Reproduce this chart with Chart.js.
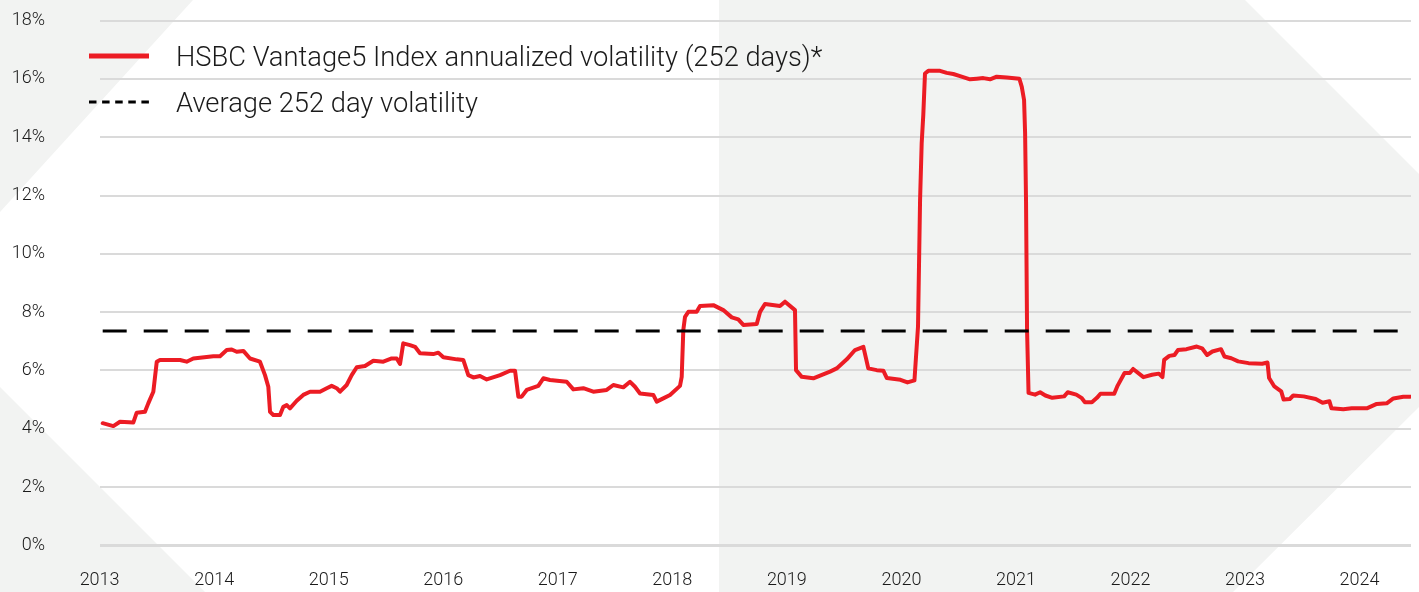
<!DOCTYPE html>
<html>
<head>
<meta charset="utf-8">
<title>HSBC Vantage5 Index volatility</title>
<script src="https://cdn.jsdelivr.net/npm/chart.js@4.4.1/dist/chart.umd.min.js"></script>
<style>
  html, body { margin: 0; padding: 0; background: #fff; }
  #wrap { width: 1419px; height: 592px; }
</style>
</head>
<body>
<div id="wrap"><canvas id="volChart" width="1419" height="592"></canvas></div>
<script>
// dates as decimal years
const years = [
  2013.027, 2013.120, 2013.178, 2013.294, 2013.324, 2013.396, 2013.425, 2013.469, 2013.499, 2013.527,
  2013.702, 2013.760, 2013.818, 2013.993, 2014.051, 2014.110, 2014.153, 2014.197, 2014.255, 2014.313,
  2014.400, 2014.444, 2014.473, 2014.488, 2014.517, 2014.575, 2014.604, 2014.634, 2014.662, 2014.721,
  2014.778, 2014.837, 2014.924, 2014.983, 2015.026, 2015.070, 2015.099, 2015.157, 2015.201, 2015.245,
  2015.317, 2015.390, 2015.477, 2015.550, 2015.594, 2015.623, 2015.651, 2015.710, 2015.754, 2015.797,
  2015.913, 2015.957, 2016.001, 2016.118, 2016.175, 2016.219, 2016.263, 2016.321, 2016.380, 2016.496,
  2016.583, 2016.627, 2016.656, 2016.685, 2016.729, 2016.830, 2016.874, 2016.932, 2017.078, 2017.136,
  2017.223, 2017.310, 2017.427, 2017.485, 2017.572, 2017.631, 2017.674, 2017.718, 2017.834, 2017.864,
  2017.921, 2017.980, 2018.067, 2018.082, 2018.096, 2018.111, 2018.140, 2018.213, 2018.242, 2018.358,
  2018.445, 2018.519, 2018.576, 2018.620, 2018.737, 2018.766, 2018.809, 2018.940, 2018.984, 2019.071,
  2019.080, 2019.130, 2019.231, 2019.377, 2019.435, 2019.523, 2019.595, 2019.668, 2019.711, 2019.785,
  2019.842, 2019.873, 2019.992, 2020.053, 2020.114, 2020.145, 2020.163, 2020.177, 2020.191, 2020.206,
  2020.235, 2020.337, 2020.396, 2020.453, 2020.512, 2020.599, 2020.658, 2020.715, 2020.774, 2020.832,
  2020.920, 2021.030, 2021.051, 2021.071, 2021.080, 2021.088, 2021.097, 2021.110, 2021.167, 2021.211,
  2021.257, 2021.317, 2021.421, 2021.452, 2021.527, 2021.572, 2021.602, 2021.663, 2021.707, 2021.738,
  2021.858, 2021.888, 2021.948, 2021.994, 2022.023, 2022.113, 2022.188, 2022.248, 2022.279, 2022.294,
  2022.339, 2022.384, 2022.414, 2022.489, 2022.579, 2022.625, 2022.669, 2022.715, 2022.790, 2022.820,
  2022.880, 2022.940, 2023.031, 2023.150, 2023.196, 2023.210, 2023.256, 2023.316, 2023.337, 2023.391,
  2023.421, 2023.512, 2023.617, 2023.677, 2023.737, 2023.755, 2023.858, 2023.932, 2024.063, 2024.150,
  2024.237, 2024.295, 2024.382, 2024.441
];

// annualized volatility (252 days), %
const vol = [
  4.19, 4.09, 4.24, 4.21, 4.55, 4.58, 4.87, 5.27, 6.30, 6.36,
  6.36, 6.30, 6.41, 6.49, 6.49, 6.70, 6.72, 6.64, 6.67, 6.41,
  6.30, 5.84, 5.44, 4.58, 4.47, 4.47, 4.75, 4.81, 4.70, 4.96,
  5.16, 5.27, 5.27, 5.39, 5.47, 5.39, 5.27, 5.50, 5.84, 6.11,
  6.15, 6.33, 6.30, 6.41, 6.41, 6.22, 6.93, 6.87, 6.81, 6.59,
  6.56, 6.61, 6.45, 6.38, 6.36, 5.84, 5.76, 5.81, 5.69, 5.84,
  5.99, 5.99, 5.10, 5.10, 5.33, 5.47, 5.73, 5.67, 5.61, 5.35,
  5.39, 5.27, 5.33, 5.50, 5.42, 5.61, 5.44, 5.21, 5.16, 4.93,
  5.04, 5.16, 5.47, 5.78, 7.39, 7.84, 8.01, 8.01, 8.21, 8.24,
  8.07, 7.82, 7.75, 7.56, 7.59, 8.01, 8.28, 8.21, 8.36, 8.07,
  6.01, 5.78, 5.73, 5.96, 6.07, 6.38, 6.70, 6.81, 6.07, 6.01,
  5.99, 5.74, 5.68, 5.59, 5.66, 7.50, 11.85, 13.79, 14.76, 16.19,
  16.28, 16.28, 16.21, 16.17, 16.10, 15.99, 16.01, 16.03, 15.99, 16.08,
  16.05, 16.01, 15.73, 15.28, 14.13, 11.85, 7.40, 5.23, 5.17, 5.25,
  5.14, 5.06, 5.11, 5.25, 5.17, 5.06, 4.91, 4.91, 5.06, 5.20,
  5.20, 5.48, 5.91, 5.91, 6.05, 5.77, 5.85, 5.89, 5.77, 6.36,
  6.50, 6.53, 6.70, 6.73, 6.82, 6.76, 6.53, 6.65, 6.73, 6.48,
  6.42, 6.31, 6.25, 6.23, 6.27, 5.74, 5.45, 5.28, 5.00, 5.02,
  5.14, 5.11, 5.02, 4.89, 4.94, 4.70, 4.67, 4.70, 4.70, 4.85,
  4.87, 5.04, 5.10, 5.10
];

const avgVol = 7.35;
const yearTicks = [2013, 2014, 2015, 2016, 2017, 2018, 2019, 2020, 2021, 2022, 2023, 2024];
const pctTicks = [0, 2, 4, 6, 8, 10, 12, 14, 16, 18];
const seriesLabels = [
  'HSBC Vantage5 Index annualized volatility (252 days)*',
  'Average 252 day volatility'
];

const FONT = 'Roboto';
const RED = '#ec1c24';

const volPoints = years.map((x, i) => ({ x: x, y: vol[i] }));
const avgPoints = [
  { x: years[0], y: avgVol },
  { x: years[years.length - 1], y: avgVol }
];

// light grey shapes behind the chart
const backdrop = {
  id: 'backdrop',
  beforeDraw(chart) {
    const ctx = chart.ctx;
    const w = chart.width, h = chart.height;
    ctx.save();
    ctx.fillStyle = '#f2f3f2';
    ctx.beginPath();
    ctx.moveTo(0, 0); ctx.lineTo(193, 0); ctx.lineTo(0, 212); ctx.closePath();
    ctx.fill();
    ctx.beginPath();
    ctx.moveTo(0, 387); ctx.lineTo(205, h); ctx.lineTo(0, h); ctx.closePath();
    ctx.fill();
    ctx.beginPath();
    ctx.moveTo(719, 0); ctx.lineTo(1245, 0); ctx.lineTo(w, 174);
    ctx.lineTo(w, 407); ctx.lineTo(1233, h); ctx.lineTo(719, h); ctx.closePath();
    ctx.fill();
    ctx.restore();
  }
};

// legend sits inside the plot, top left
const insetLegend = {
  id: 'insetLegend',
  afterDraw(chart) {
    const ctx = chart.ctx;
    ctx.save();
    chart.data.datasets.forEach((ds, i) => {
      const y = 56 + i * 46;
      ctx.beginPath();
      ctx.strokeStyle = ds.borderColor;
      ctx.lineWidth = i === 0 ? 5 : 3;
      ctx.setLineDash(i === 0 ? [] : [7.5, 5.6]);
      ctx.moveTo(89, y);
      ctx.lineTo(149, y);
      ctx.stroke();
      ctx.setLineDash([]);
      ctx.fillStyle = '#1a1a1a';
      ctx.font = '300 27.3px ' + FONT;
      ctx.textBaseline = 'middle';
      ctx.fillText(ds.label, 176, y + 3);
    });
    ctx.restore();
  }
};

const ctx = document.getElementById('volChart').getContext('2d');
const chart = new Chart(ctx, {
  type: 'line',
  data: {
    datasets: [{
      label: seriesLabels[0],
      data: volPoints,
      borderColor: RED,
      borderWidth: 4,
      borderJoinStyle: 'round',
      borderCapStyle: 'round',
      pointRadius: 0,
      tension: 0,
      order: 2
    }, {
      label: seriesLabels[1],
      data: avgPoints,
      borderColor: '#000000',
      borderWidth: 3,
      borderDash: [24, 17],
      pointRadius: 0,
      tension: 0,
      order: 1
    }]
  },
  options: {
    responsive: false,
    animation: false,
    layout: { padding: { top: 20.7, right: 8, bottom: 0, left: 0 } },
    plugins: {
      legend: { display: false },
      tooltip: { enabled: false }
    },
    scales: {
      x: {
        type: 'linear',
        min: 2013,
        max: 2024.449,
        grid: { display: false, drawTicks: false },
        border: { display: false },
        afterBuildTicks: (axis) => { axis.ticks = yearTicks.map(v => ({ value: v })); },
        afterFit: (axis) => { axis.height = 46.7; },
        ticks: {
          padding: 24,
          maxRotation: 0,
          autoSkip: false,
          color: '#1a1a1a',
          font: { family: FONT, size: 18, weight: 300 },
          callback: (v) => String(v)
        }
      },
      y: {
        min: 0,
        max: 18,
        grid: {
          color: '#dadada',
          lineWidth: (c) => (c.tick && c.tick.value === 0 ? 3 : 2),
          drawTicks: false
        },
        border: { display: false },
        afterBuildTicks: (axis) => { axis.ticks = pctTicks.map(v => ({ value: v })); },
        afterFit: (axis) => {
          axis.width = 99.6;
          // tick padding is horizontal here; keep it out of the vertical reserve
          axis.paddingTop = 10;
          axis.paddingBottom = 10;
        },
        ticks: {
          padding: 54.6,
          color: '#1a1a1a',
          font: { family: FONT, size: 18, weight: 300 },
          callback: (v) => v + '%'
        }
      }
    }
  },
  plugins: [backdrop, insetLegend]
});
</script>
</body>
</html>
